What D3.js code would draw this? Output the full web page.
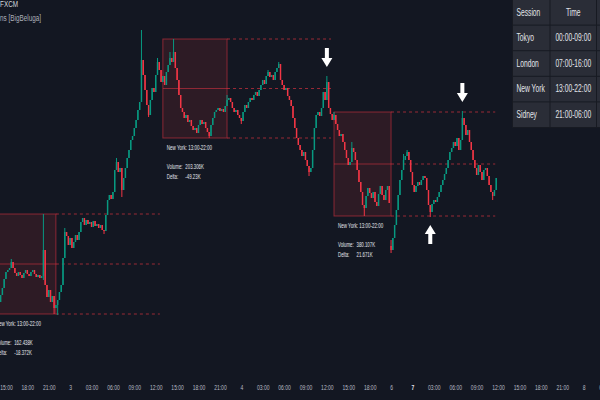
<!DOCTYPE html>
<html>
<head>
<meta charset="utf-8">
<script src="https://cdn.jsdelivr.net/npm/d3@7"></script>
<style>
  html, body { margin: 0; padding: 0; background: #131722; overflow: hidden; }
  svg { display: block; }
</style>
</head>
<body>
<div id="chart"></div>
<script>
// 15 minute bars, bar 0 = 13:00 of day 2
const firstBar = 4;
const firstOpen = 2309.0;
const closes = [
  2309.8, 2310.5, 2311.2, 2312.1, 2312.8, 2313.0, 2313.2, 2313.8, 2313.2, 2312.7,
  2312.4, 2312.8, 2312.5, 2312.2, 2312.7, 2313.0, 2312.6, 2312.4, 2312.8, 2313.0,
  2312.6, 2312.3, 2312.5, 2312.2, 2312.4, 2315.0, 2311.5, 2310.3, 2311.0, 2309.8,
  2310.4, 2309.2, 2309.5, 2310.0, 2310.8, 2311.5, 2314.2, 2316.8, 2316.4, 2315.5,
  2316.2, 2315.2, 2315.8, 2316.5, 2316.0, 2316.8, 2317.8, 2318.2, 2317.5, 2318.0,
  2317.6, 2317.8, 2317.3, 2317.9, 2317.4, 2317.6, 2317.2, 2317.5, 2317.0, 2316.9,
  2318.5, 2320.0, 2320.5, 2320.1, 2320.8, 2323.0, 2323.8, 2322.8, 2323.2, 2321.0,
  2322.2, 2323.2, 2324.2, 2325.0, 2326.0, 2326.4, 2327.2, 2328.0, 2329.0, 2329.8,
  2334.0, 2332.5, 2331.0, 2329.5, 2328.5, 2330.0, 2331.2, 2330.8, 2332.5, 2333.8,
  2333.0, 2331.8, 2332.4, 2331.5, 2332.8, 2333.5, 2334.2, 2333.8, 2334.8, 2333.2,
  2332.0, 2330.5, 2329.2, 2328.8, 2328.2, 2328.5, 2327.8, 2328.0, 2327.4, 2327.0,
  2327.2, 2326.7, 2327.5, 2328.0, 2327.6, 2327.8, 2327.2, 2326.8, 2326.4, 2327.5,
  2328.2, 2328.8, 2329.0, 2329.2, 2328.9, 2329.1, 2328.8, 2329.4, 2330.0, 2330.2,
  2329.8, 2329.2, 2328.8, 2329.0, 2328.5, 2328.2, 2327.9, 2328.8, 2329.5, 2329.2,
  2329.8, 2330.2, 2330.0, 2330.5, 2330.8, 2330.4, 2331.0, 2331.5, 2332.0, 2331.6,
  2332.4, 2332.8, 2332.3, 2332.5, 2332.0, 2332.8, 2333.2, 2333.6, 2332.0, 2331.5,
  2331.0, 2331.2, 2330.4, 2330.0, 2329.4, 2328.2, 2327.2, 2326.2, 2325.5, 2325.0,
  2324.4, 2324.8, 2324.0, 2323.4, 2322.8, 2323.2, 2325.0, 2327.2, 2328.5, 2328.8,
  2328.4, 2329.2, 2330.8, 2330.0, 2331.8, 2329.2, 2328.6, 2328.0, 2328.5, 2327.6,
  2327.0, 2326.4, 2326.6, 2325.8, 2325.0, 2324.2, 2323.5, 2323.8, 2325.2, 2324.8,
  2324.0, 2323.0, 2321.8, 2320.8, 2319.5, 2319.2, 2320.4, 2321.2, 2320.7, 2320.2,
  2320.8, 2319.8, 2319.4, 2320.6, 2321.4, 2320.5, 2320.0, 2321.0, 2321.4, 2319.7,
  2315.0, 2316.2, 2317.5, 2319.0, 2320.5, 2322.0, 2323.0, 2324.0, 2324.4, 2324.8,
  2324.0, 2322.8, 2321.5, 2320.8, 2321.4, 2321.8, 2321.5, 2322.0, 2322.4, 2322.2,
  2321.0, 2319.5, 2318.8, 2319.6, 2320.0, 2319.8, 2320.3, 2320.8, 2321.5, 2322.0,
  2322.6, 2323.2, 2324.0, 2324.8, 2325.2, 2325.8, 2325.4, 2326.2, 2325.0, 2326.0,
  2328.2, 2327.5, 2326.5, 2327.0, 2325.8, 2325.0, 2324.0, 2323.2, 2322.5, 2323.5,
  2322.8, 2322.0, 2323.0, 2323.2, 2322.4, 2321.5, 2320.8, 2320.4, 2321.0, 2322.2
];
// [bar, price]
const highWicks = [[11, 2314.1], [29, 2318.6], [41, 2317.2], [70, 2324.2], [84, 2337.0],
  [93, 2334.2], [100, 2334.8], [102, 2336.1], [132, 2330.5], [155, 2333.0], [161, 2333.8],
  [188, 2332.4], [192, 2328.8], [202, 2325.8], [224, 2316.0], [231, 2324.6], [233, 2325.0],
  [264, 2328.9]];
const lowWicks = [[29, 2312.0], [35, 2308.6], [37, 2308.5], [63, 2316.6], [73, 2320.3],
  [88, 2328.3], [122, 2326.2], [140, 2327.6], [178, 2322.4], [209, 2318.4], [224, 2314.7],
  [246, 2318.3], [281, 2320.0]];
const gapOpens = [[224, 2315.4]];

const tickBars = [8, 20, 32, 44, 56, 68, 80, 92, 104, 116, 128, 140, 152, 164, 176, 188,
  200, 212, 224, 236, 248, 260, 272, 284, 296, 308, 320, 332, 344];
const tickLabels = ["15:00", "18:00", "21:00", "3", "03:00", "06:00", "09:00", "12:00",
  "15:00", "18:00", "21:00", "4", "03:00", "06:00", "09:00", "12:00", "15:00", "18:00",
  "6", "7", "03:00", "06:00", "09:00", "12:00", "15:00", "18:00", "21:00", "8", "03:00"];

const sessionStart = [0, 96, 192];
const sessionEnd = [35, 131, 223];
const sessionTitle = ["New York: 13:00-22:00", "New York: 13:00-22:00", "New York: 13:00-22:00"];
const sessionVolume = ["162.438K", "203.306K", "380.107K"];
const sessionDelta = ["-18.372K", "-49.23K", "21.671K"];

const signalBars = [188, 264, 246];
const signalDir = ["down", "down", "up"];

const tableSessions = ["Tokyo", "London", "New York", "Sidney"];
const tableTimes = ["00:00-09:00", "07:00-16:00", "13:00-22:00", "21:00-06:00"];

const width = 600, height = 400;
const upColor = "#089981", downColor = "#f23645";
const squeeze = 0.67;

const svg = d3.select("#chart").append("svg")
    .attr("width", width)
    .attr("height", height);

svg.append("rect").attr("width", width).attr("height", height).attr("fill", "#131722");

const x = d3.scaleLinear().domain([0, 332]).range([-8.3, 583.6]);
const y = d3.scaleLinear().domain([2300, 2340]).range([400, 0]);
const step = x(1) - x(0);

// build candles
const highMap = new Map(highWicks), lowMap = new Map(lowWicks), gapMap = new Map(gapOpens);
const candles = closes.map((c, i) => {
    const bar = firstBar + i;
    let o = i === 0 ? firstOpen : closes[i - 1];
    if (gapMap.has(bar)) o = gapMap.get(bar);
    let h = Math.max(o, c), l = Math.min(o, c);
    if (highMap.has(bar)) h = Math.max(h, highMap.get(bar));
    if (lowMap.has(bar)) l = Math.min(l, lowMap.get(bar));
    return { bar, o, h, l, c };
});
const lastBar = candles[candles.length - 1].bar;

function label(g, px, py, str, size, fill, anchor, weight, sx) {
    return g.append("text")
        .attr("transform", `translate(${px},${py}) scale(${sx || squeeze},1)`)
        .attr("font-family", "'Liberation Sans', Arial, sans-serif")
        .attr("font-size", size)
        .attr("fill", fill)
        .attr("text-anchor", anchor || "start")
        .attr("font-weight", weight || "normal")
        .text(str);
}

// session boxes
const boxLayer = svg.append("g");
const boxStroke = "rgba(242,54,69,0.5)";
sessionStart.forEach((s, k) => {
    const e = sessionEnd[k];
    const inside = candles.filter(d => d.bar >= s && d.bar <= e);
    const hi = d3.max(inside, d => d.h), lo = d3.min(inside, d => d.l), mid = (hi + lo) / 2;
    const x0 = x(s), x1 = x(e + 1);
    const extEnd = k < sessionStart.length - 1 ? x(sessionStart[k + 1]) - 3 : x(lastBar) - 1;

    boxLayer.append("rect")
        .attr("x", x0).attr("y", y(hi))
        .attr("width", x1 - x0).attr("height", y(lo) - y(hi))
        .attr("fill", "rgba(242,54,69,0.12)")
        .attr("stroke", boxStroke).attr("stroke-width", 1);
    boxLayer.append("line")
        .attr("x1", x0).attr("x2", x1).attr("y1", y(mid)).attr("y2", y(mid))
        .attr("stroke", boxStroke).attr("stroke-width", 1);
    [hi, mid, lo].forEach(v => {
        boxLayer.append("line")
            .attr("x1", x1).attr("x2", extEnd).attr("y1", y(v)).attr("y2", y(v))
            .attr("stroke", "rgba(242,54,69,0.6)").attr("stroke-width", 1)
            .attr("stroke-dasharray", "3,3");
    });

    // session stats under the box
    const tx = x0 + 4, ty = y(lo);
    label(boxLayer, tx, ty + 12, sessionTitle[k], 7, "#e6e8ee", "start", "normal", 0.64);
    label(boxLayer, tx, ty + 31, "Volume:", 7, "#e6e8ee", "start", "normal", 0.62);
    label(boxLayer, tx + 18.5, ty + 31, sessionVolume[k], 7, "#e6e8ee", "start", "normal", 0.62);
    label(boxLayer, tx, ty + 41, "Delta:", 7, "#e6e8ee", "start", "normal", 0.62);
    label(boxLayer, tx + 18.5, ty + 41, sessionDelta[k], 7, "#e6e8ee", "start", "normal", 0.62);
});

// candles
const candleLayer = svg.append("g");
const cg = candleLayer.selectAll("g").data(candles).enter().append("g");
cg.append("line")
    .attr("x1", d => x(d.bar)).attr("x2", d => x(d.bar))
    .attr("y1", d => y(d.h)).attr("y2", d => y(d.l))
    .attr("stroke", d => d.c >= d.o ? upColor : downColor)
    .attr("stroke-width", 1);
cg.append("rect")
    .attr("x", d => x(d.bar) - step * 0.4)
    .attr("width", step * 0.8)
    .attr("y", d => y(Math.max(d.o, d.c)))
    .attr("height", d => Math.max(0.8, Math.abs(y(d.o) - y(d.c))))
    .attr("fill", d => d.c >= d.o ? upColor : downColor);

// signal arrows
const arrowLayer = svg.append("g");
signalBars.forEach((b, k) => {
    const d = candles.find(c => c.bar === b);
    const cx = x(b);
    const dir = signalDir[k] === "down" ? 1 : -1;
    const tip = dir === 1 ? y(d.h) - 9 : y(d.l) + 8;
    const pts = [[cx - 2, tip - dir * 19], [cx + 2, tip - dir * 19], [cx + 2, tip - dir * 9],
        [cx + 5.5, tip - dir * 9], [cx, tip], [cx - 5.5, tip - dir * 9], [cx - 2, tip - dir * 9]];
    arrowLayer.append("path")
        .attr("d", d3.line()(pts) + "Z")
        .attr("fill", "#ffffff");
});

// time axis
const axis = d3.axisBottom(x)
    .tickValues(tickBars)
    .tickFormat((d, i) => tickLabels[i])
    .tickSize(0)
    .tickPadding(0);
const axisG = svg.append("g").attr("transform", "translate(0,385)").call(axis);
axisG.select(".domain").remove();
axisG.selectAll("text")
    .attr("font-family", "'Liberation Sans', Arial, sans-serif")
    .attr("font-size", 7.5)
    .attr("transform", `scale(${squeeze},1)`)
    .attr("font-weight", (d, i) => tickLabels[i] === "7" ? "bold" : "normal")
    .attr("fill", (d, i) => tickLabels[i] === "7" ? "#e6e8ee" : "#b8bbc4");

// title (cut off at the left)
const titleG = svg.append("g");
label(titleG, 0, 7, "FXCM", 9.5, "#d1d4dc");
label(titleG, 0, 21, "ns [BigBeluga]", 9.5, "#aeb1ba");

// session table
const tableG = svg.append("g");
const colX = [513, 550.5, 597];
const colW = [36.5, 45.5, 40];
const rowY = [0, 25.6, 51.2, 76.8, 102.4];
const rowH = 24.6;
tableG.append("rect").attr("x", 512).attr("y", 0).attr("width", 90).attr("height", 128)
    .attr("fill", "#171a22");
rowY.forEach(ry => {
    colX.forEach((cx, j) => {
        tableG.append("rect")
            .attr("x", cx).attr("y", ry)
            .attr("width", colW[j]).attr("height", rowH)
            .attr("fill", "#2a2d37");
    });
});
label(tableG, colX[0] + 3.5, rowY[0] + 15.5, "Session", 10, "#e3e5ea");
label(tableG, colX[1] + colW[1] / 2, rowY[0] + 15.5, "Time", 10, "#e3e5ea", "middle");
tableSessions.forEach((s, i) => {
    label(tableG, colX[0] + 3.5, rowY[i + 1] + 15.5, s, 10, "#e3e5ea");
    label(tableG, colX[1] + colW[1] / 2, rowY[i + 1] + 15.5, tableTimes[i], 10, "#e3e5ea", "middle");
});
</script>
</body>
</html>
